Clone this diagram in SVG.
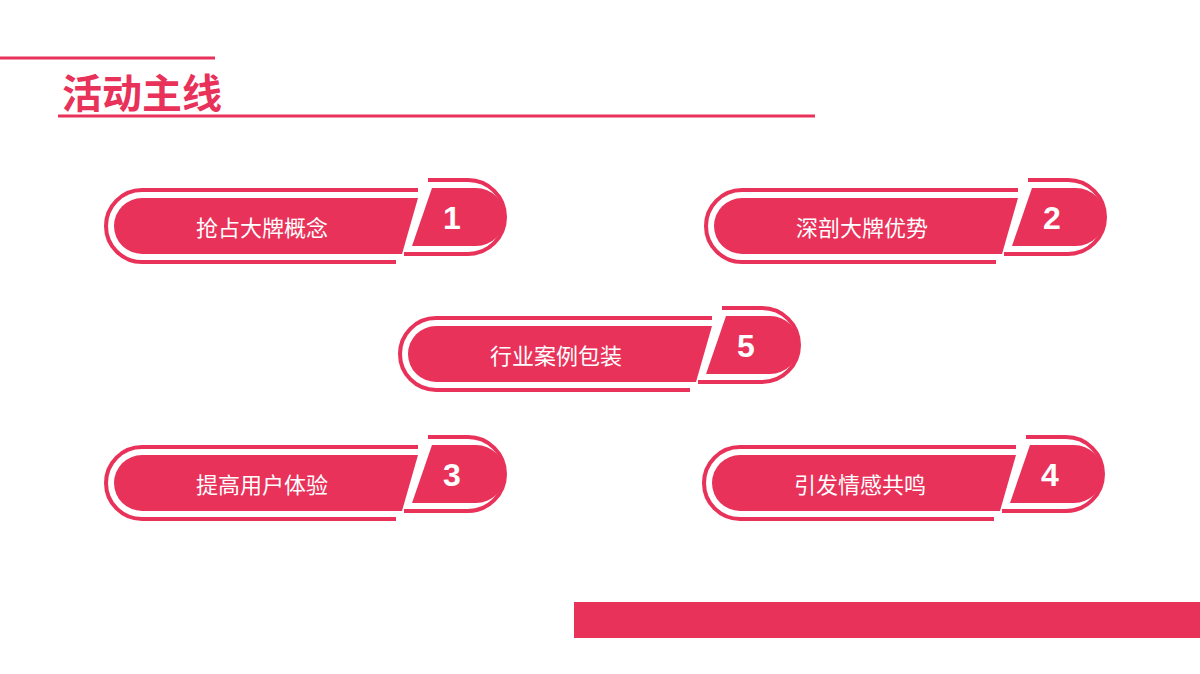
<svg xmlns="http://www.w3.org/2000/svg" width="1200" height="674" viewBox="0 0 1200 674">
<style>
.o{fill:none;stroke:#e8325a;stroke-width:4}
.f{fill:#e8325a}
.t{font-family:"Noto Sans CJK SC",sans-serif;font-size:22px;fill:#fff;text-anchor:middle}
.n{font-family:"Liberation Sans",sans-serif;font-weight:bold;font-size:32px;fill:#fff;text-anchor:middle}
</style>
<defs>
<g id="shape">
<path class="o" d="M312,10 H36 A36 36 0 0 0 36,82 H290"/>
<path class="f" d="M312,18 L296,74 H36 A28 28 0 0 1 36,18 Z"/>
<path class="f" d="M326,8 H370 A29 29 0 0 1 370,66 H306 Z"/>
<path class="o" d="M322,0 H362 A37 37 0 0 1 362,74 H298"/>
</g>
</defs>
<rect width="1200" height="674" fill="#fff"/>
<line x1="0" y1="58" x2="215" y2="58" stroke="#e8325a" stroke-width="3"/>
<line x1="58" y1="116" x2="815" y2="116" stroke="#e8325a" stroke-width="3"/>
<text x="62" y="108" font-family="Noto Sans CJK SC,sans-serif" font-size="40" font-weight="bold" fill="#e8325a">活动主线</text>
<rect x="574" y="602" width="626" height="36" fill="#e8325a"/>
<g id="node1" transform="translate(106,180)"><use href="#shape"/><text class="t" x="156" y="56">抢占大牌概念</text><text class="n" x="346" y="49">1</text></g>
<g id="node2" transform="translate(706,180)"><use href="#shape"/><text class="t" x="156" y="56">深剖大牌优势</text><text class="n" x="346" y="49">2</text></g>
<g id="node5" transform="translate(400,308)"><use href="#shape"/><text class="t" x="156" y="56">行业案例包装</text><text class="n" x="346" y="49">5</text></g>
<g id="node3" transform="translate(106,437)"><use href="#shape"/><text class="t" x="156" y="56">提高用户体验</text><text class="n" x="346" y="49">3</text></g>
<g id="node4" transform="translate(704,437)"><use href="#shape"/><text class="t" x="156" y="56">引发情感共鸣</text><text class="n" x="346" y="49">4</text></g>
<g id="connectors"/>
</svg>
